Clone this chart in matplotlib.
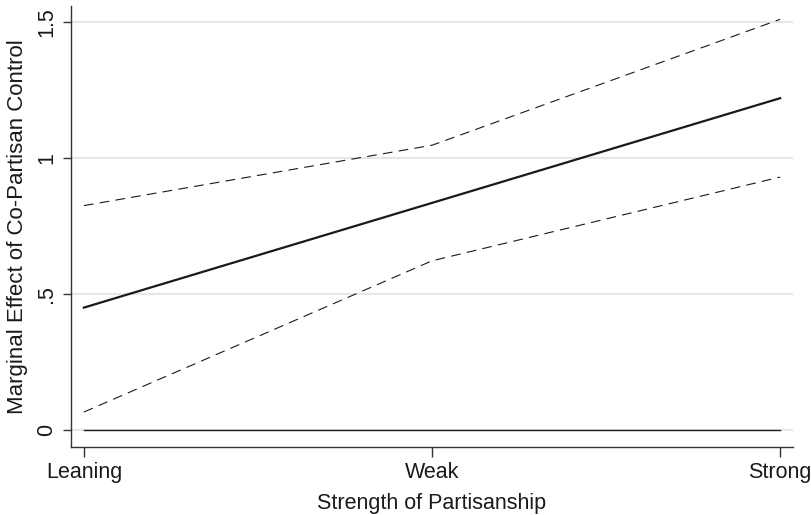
import numpy as np
import matplotlib.pyplot as plt

plt.rcParams['font.family'] = ['Liberation Sans', 'DejaVu Sans']
plt.rcParams['lines.scale_dashes'] = False

# marginal effect estimates and 95% bounds
categories = ['Leaning', 'Weak', 'Strong']
effect = [0.45, 0.835, 1.22]
upper = [0.825, 1.047, 1.51]
lower = [0.066, 0.622, 0.93]
zero = [0, 0, 0]

x = np.arange(len(categories))

fig = plt.figure(figsize=(8.12, 5.15), dpi=100)
ax = fig.add_axes([71/812, 68/515, 722/812, 441/515])

for yv in [0, 0.5, 1, 1.5]:
    ax.axhline(yv, color='#e6e6e6', lw=1.5, zorder=0)

ax.plot(x, zero, color='#1a1a1a', lw=1.0)
ax.plot(x, upper, color='#1a1a1a', lw=0.8, dashes=(7, 4.5))
ax.plot(x, lower, color='#1a1a1a', lw=0.8, dashes=(7, 4.5))
ax.plot(x, effect, color='#1a1a1a', lw=1.6)

ax.set_xlim(-0.037, 2.037)
ax.set_ylim(-0.0625, 1.559)
ax.set_xticks(x)
ax.set_xticklabels(categories)
ax.set_yticks([0, 0.5, 1, 1.5])
ax.set_yticklabels(['0', '.5', '1', '1.5'], rotation=90, va='center')

ax.spines['top'].set_visible(False)
ax.spines['right'].set_visible(False)
for s in ['left', 'bottom']:
    ax.spines[s].set_color('#333333')
    ax.spines[s].set_linewidth(1.0)

ax.tick_params(axis='both', colors='#333333', labelcolor='#1a1a1a', labelsize=15.5, width=1.0)
ax.tick_params(axis='x', length=7, pad=4)
ax.tick_params(axis='y', length=6, pad=4)

ax.set_xlabel('Strength of Partisanship', fontsize=15.5, labelpad=7, color='#1a1a1a')
ax.set_ylabel('Marginal Effect of Co-Partisan Control', fontsize=16, labelpad=6, color='#1a1a1a')

fig.savefig('out.png', dpi=100)
